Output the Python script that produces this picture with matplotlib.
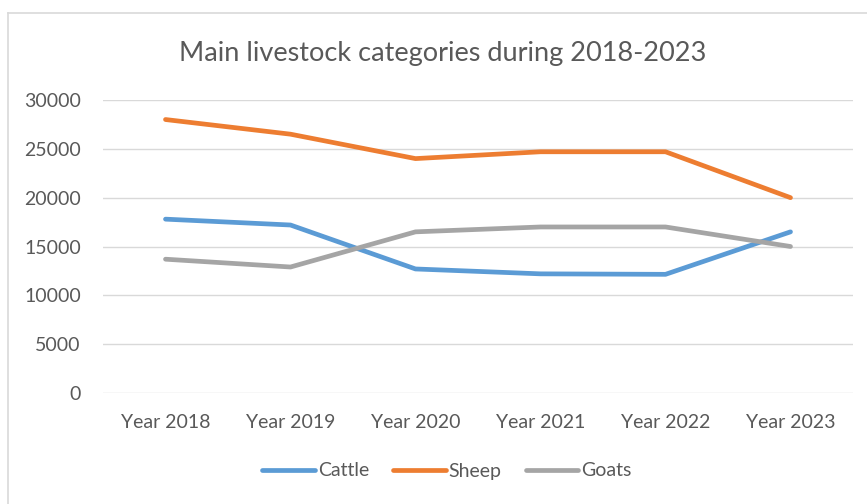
import matplotlib.pyplot as plt
from matplotlib.lines import Line2D

# ---- data ----
years = ['Year 2018', 'Year 2019', 'Year 2020', 'Year 2021', 'Year 2022', 'Year 2023']
cattle = [17800, 17200, 12700, 12200, 12150, 16500]
sheep = [28000, 26500, 24000, 24700, 24700, 20000]
goats = [13700, 12900, 16500, 17000, 17000, 15000]
y_ticks = [0, 5000, 10000, 15000, 20000, 25000, 30000]

plt.rcParams['font.family'] = ['Lato', 'DejaVu Sans']
text_color = '#595959'

fig = plt.figure(figsize=(8.67, 5.04), dpi=100)
ax = fig.add_axes([103 / 867, 1 - 393 / 504, 750 / 867, 293 / 504])

x = range(len(years))
ax.plot(x, cattle, color='#5B9BD5', lw=3.4, solid_capstyle='round', solid_joinstyle='round', label='Cattle')
ax.plot(x, sheep, color='#ED7D31', lw=3.4, solid_capstyle='round', solid_joinstyle='round', label='Sheep')
ax.plot(x, goats, color='#A5A5A5', lw=3.4, solid_capstyle='round', solid_joinstyle='round', label='Goats')

ax.set_xlim(-0.5, len(years) - 0.5)
ax.set_ylim(0, 30000)
ax.set_xticks(list(x))
ax.set_xticklabels(years)
ax.set_yticks(y_ticks)
ax.yaxis.grid(True, color='#D9D9D9', lw=1)
ax.set_axisbelow(True)
for s in ax.spines.values():
    s.set_visible(False)
ax.tick_params(length=0, labelsize=14, colors=text_color)
ax.tick_params(axis='x', pad=15)
ax.tick_params(axis='y', pad=16)

fig.text(443 / 867, 1 - 54 / 504, 'Main livestock categories during 2018-2023',
         ha='center', va='center', fontsize=19.5, color=text_color)

leg = fig.legend(loc='center', bbox_to_anchor=(447 / 867, 1 - 471 / 504), ncol=3,
                 frameon=False, fontsize=14, handlelength=2.7, handletextpad=0.15,
                 columnspacing=1.25)
for t in leg.get_texts():
    t.set_color(text_color)

# outer chart border (left and top visible in reference)
fig.add_artist(Line2D([8 / 867, 8 / 867], [0, 1 - 13 / 504], color='#D9D9D9', lw=1.2))
fig.add_artist(Line2D([8 / 867, 1], [1 - 13 / 504, 1 - 13 / 504], color='#D9D9D9', lw=1.2))

fig.savefig('out.png', dpi=100)
